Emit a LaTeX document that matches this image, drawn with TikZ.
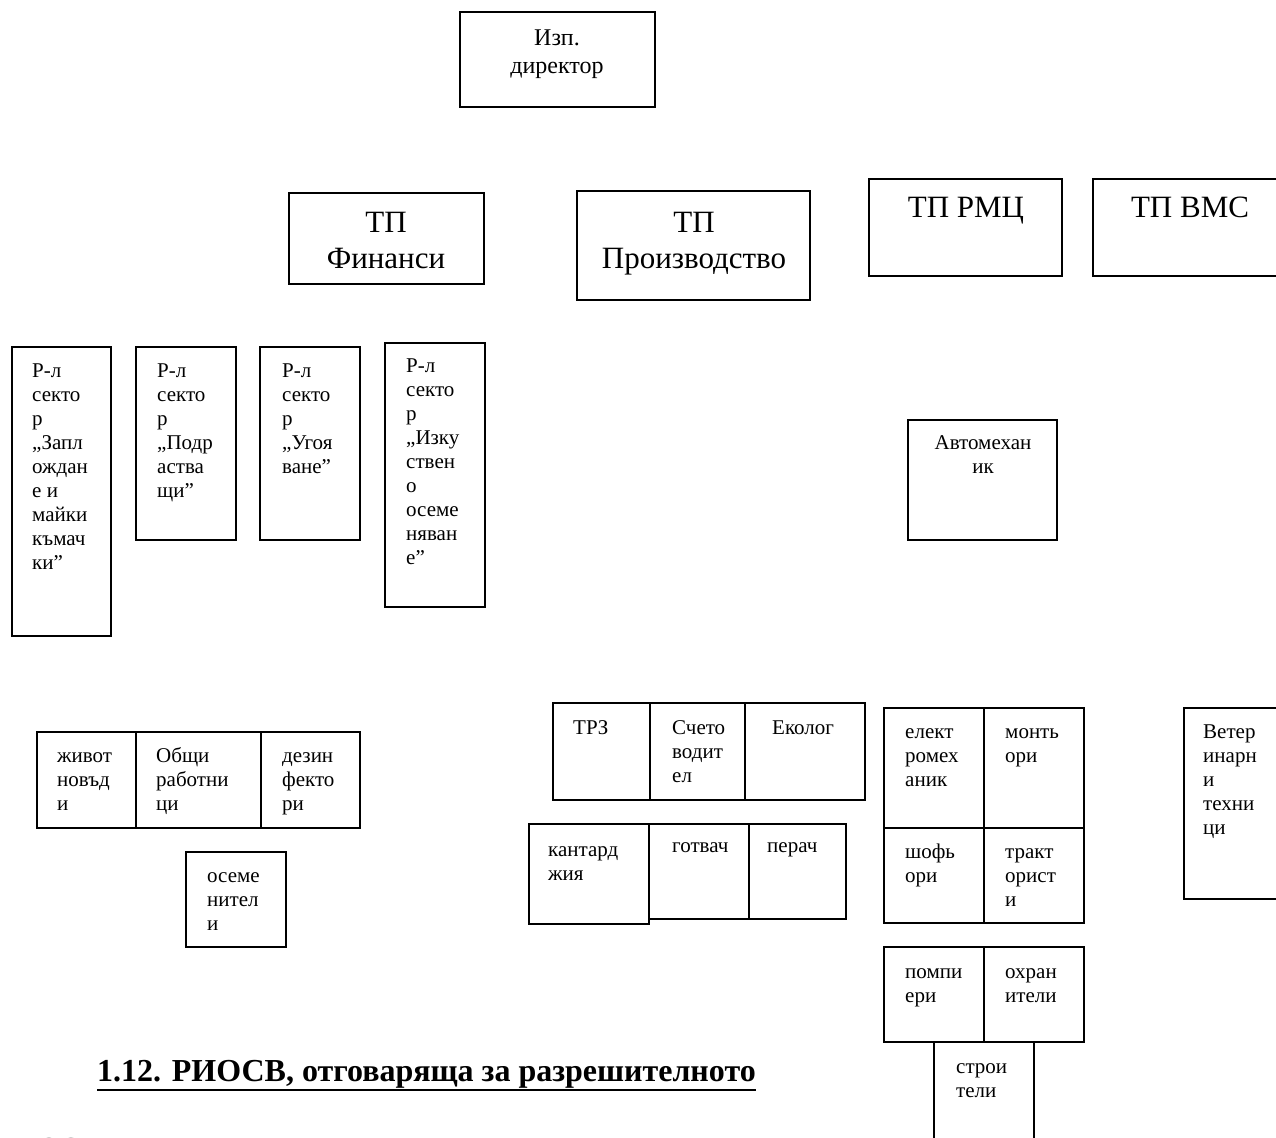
\documentclass[tikz,border=0pt]{standalone}
\usepackage{fontspec}
\setmainfont{Liberation Serif}
\usetikzlibrary{positioning}

% text stacks: first line sits on the node's base
\newcommand{\lft}[1]{\begin{tabular}[t]{@{}l@{}}#1\end{tabular}}
\newcommand{\ctr}[1]{\begin{tabular}[t]{@{}c@{}}#1\end{tabular}}

\begin{document}
\begin{tikzpicture}[x=1pt,y=-1pt]
	\tikzstyle{cell}=[draw, line width=1.8pt, inner sep=0pt, outer sep=0pt, anchor=north west]
	\tikzstyle{txt}=[inner sep=0pt, anchor=base west, font=\fontsize{21}{24}\selectfont]
	\tikzstyle{ctxt}=[txt, anchor=base]
	\tikzstyle{big}=[ctxt, font=\fontsize{31}{36}\selectfont]
	\useasboundingbox (0,0) rectangle (1276,1137);

	% top level
	\node[cell, minimum width=195pt, minimum height=95pt] (izp) at (460,12) {};
	\node[ctxt, font=\fontsize{24}{28}\selectfont] (izpT) at ([shift={(97,34)}]izp.north west) {\ctr{Изп.\\директор}};

	\node[cell, minimum width=195pt, minimum height=91pt] (fin) at (289,193) {};
	\node[big] (finT) at ([shift={(97,39)}]fin.north west) {\ctr{ТП\\Финанси}};
	\node[cell, minimum width=233pt, minimum height=109pt] (proizv) at (577,191) {};
	\node[big] (proizvT) at ([shift={(117,41)}]proizv.north west) {\ctr{ТП\\Производство}};
	\node[cell, minimum width=193pt, minimum height=97pt] (rmc) at (869,179) {};
	\node[big] (rmcT) at ([shift={(97,38)}]rmc.north west) {ТП РМЦ};
	\node[cell, minimum width=193pt, minimum height=97pt] (vms) at (1093,179) {};
	\node[big] (vmsT) at ([shift={(97,38)}]vms.north west) {ТП ВМС};

	% sectors
	\node[cell, minimum width=99pt, minimum height=289pt] (zapl) at (12,347) {};
	\node[txt] (zaplT) at ([shift={(20,30)}]zapl.north west) {\lft{Р-л\\секто\\р\\„Запл\\ождан\\е и\\майки\\къмач\\ки”}};
	\node[cell, minimum width=100pt, minimum height=193pt] (podr) at (136,347) {};
	\node[txt] (podrT) at ([shift={(21,30)}]podr.north west) {\lft{Р-л\\секто\\р\\„Подр\\аства\\щи”}};
	\node[cell, minimum width=100pt, minimum height=193pt] (ugoya) at (260,347) {};
	\node[txt] (ugoyaT) at ([shift={(22,30)}]ugoya.north west) {\lft{Р-л\\секто\\р\\„Угоя\\ване”}};
	\node[cell, minimum width=100pt, minimum height=264pt] (izk) at (385,343) {};
	\node[txt] (izkT) at ([shift={(21,29)}]izk.north west) {\lft{Р-л\\секто\\р\\„Изку\\ствен\\о\\осеме\\няван\\е”}};

	\node[cell, minimum width=149pt, minimum height=120pt] (avto) at (908,420) {};
	\node[ctxt] (avtoT) at ([shift={(75,29)}]avto.north west) {\ctr{Автомехан\\ик}};

	% workers, left
	\node[cell, minimum width=99pt, minimum height=96pt] (zhiv) at (37,732) {};
	\node[txt] (zhivT) at ([shift={(20,30)}]zhiv.north west) {\lft{живот\\новъд\\и}};
	\node[cell, minimum width=125pt, minimum height=96pt] (obshti) at (136,732) {};
	\node[txt] (obshtiT) at ([shift={(20,30)}]obshti.north west) {\lft{Общи\\работни\\ци}};
	\node[cell, minimum width=99pt, minimum height=96pt] (dezin) at (261,732) {};
	\node[txt] (dezinT) at ([shift={(21,30)}]dezin.north west) {\lft{дезин\\фекто\\ри}};
	\node[cell, minimum width=100pt, minimum height=95pt] (oseme) at (186,852) {};
	\node[txt] (osemeT) at ([shift={(21,30)}]oseme.north west) {\lft{осеме\\нител\\и}};

	% workers, middle
	\node[cell, minimum width=97pt, minimum height=97pt] (trz) at (553,703) {};
	\node[txt] (trzT) at ([shift={(20,31)}]trz.north west) {ТРЗ};
	\node[cell, minimum width=95pt, minimum height=97pt] (scheto) at (650,703) {};
	\node[txt] (schetoT) at ([shift={(22,31)}]scheto.north west) {\lft{Счето\\водит\\ел}};
	\node[cell, minimum width=120pt, minimum height=97pt] (ekolog) at (745,703) {};
	\node[txt] (ekologT) at ([shift={(27,31)}]ekolog.north west) {Еколог};
	\node[cell, minimum width=120pt, minimum height=100pt] (kantar) at (529,824) {};
	\node[txt] (kantarT) at ([shift={(19,32)}]kantar.north west) {\lft{кантард\\жия}};
	\node[cell, minimum width=100pt, minimum height=95pt] (gotvach) at (649,824) {};
	\node[txt] (gotvachT) at ([shift={(23,28)}]gotvach.north west) {готвач};
	\node[cell, minimum width=97pt, minimum height=95pt] (perach) at (749,824) {};
	\node[txt] (perachT) at ([shift={(18,28)}]perach.north west) {перач};

	% workers, right
	\node[cell, minimum width=100pt, minimum height=120pt] (elekt) at (884,708) {};
	\node[txt] (elektT) at ([shift={(21,30)}]elekt.north west) {\lft{елект\\ромех\\аник}};
	\node[cell, minimum width=100pt, minimum height=120pt] (monty) at (984,708) {};
	\node[txt] (montyT) at ([shift={(21,30)}]monty.north west) {\lft{монть\\ори}};
	\node[cell, minimum width=100pt, minimum height=95pt] (shofy) at (884,828) {};
	\node[txt] (shofyT) at ([shift={(21,30)}]shofy.north west) {\lft{шофь\\ори}};
	\node[cell, minimum width=100pt, minimum height=95pt] (trakt) at (984,828) {};
	\node[txt] (traktT) at ([shift={(21,30)}]trakt.north west) {\lft{тракт\\орист\\и}};
	\node[cell, minimum width=100pt, minimum height=95pt] (pompi) at (884,947) {};
	\node[txt] (pompiT) at ([shift={(21,31)}]pompi.north west) {\lft{помпи\\ери}};
	\node[cell, minimum width=100pt, minimum height=95pt] (ohran) at (984,947) {};
	\node[txt] (ohranT) at ([shift={(21,31)}]ohran.north west) {\lft{охран\\ители}};
	\node[cell, minimum width=100pt, minimum height=130pt] (stroi) at (934,1042) {};
	\node[txt] (stroiT) at ([shift={(22,31)}]stroi.north west) {\lft{строи\\тели}};
	\node[cell, minimum width=120pt, minimum height=191pt] (veter) at (1184,708) {};
	\node[txt] (veterT) at ([shift={(19,30)}]veter.north west) {\lft{Ветер\\инарн\\и\\техни\\ци}};

	% heading below the chart
	\node[inner sep=0pt, anchor=base west, font=\bfseries\fontsize{32}{36}\selectfont] (head) at (97,1081) {1.12. РИОСВ, отговаряща за разрешителното};
	\draw[line width=2.6pt] ([yshift=-9pt]head.base west) -- ([yshift=-9pt]head.base east);
	\node[inner sep=0pt, anchor=base west, font=\bfseries\fontsize{27.5}{32}\selectfont] (riosv) at (0,1156) {РИОСВ – Русе, Т};
\end{tikzpicture}
\end{document}
